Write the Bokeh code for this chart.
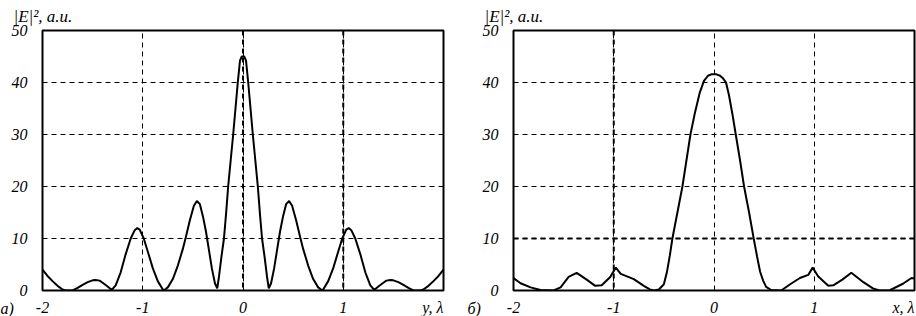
from bokeh.plotting import figure
from bokeh.models import Range1d, FixedTicker, Span, ColumnDataSource
from bokeh.core.properties import value
from bokeh.layouts import row
from bokeh.embed import file_html
from bokeh.resources import INLINE

# ---- data ----
# panel а): |E|^2 versus y (wavelengths)
x_a = [-2.0, -1.95, -1.9, -1.85, -1.8, -1.77, -1.7, -1.65, -1.6, -1.55, -1.5, -1.47, -1.43, -1.4, -1.36, -1.32, -1.305,
       -1.27, -1.22, -1.17, -1.12, -1.08, -1.055, -1.03, -0.99, -0.95, -0.9, -0.85, -0.8, -0.79,
       -0.75, -0.7, -0.65, -0.6, -0.57, -0.53, -0.49, -0.46, -0.43, -0.4, -0.37, -0.34, -0.31, -0.28, -0.257,
       -0.24, -0.215, -0.19, -0.17, -0.148, -0.123, -0.098, -0.075, -0.052, -0.03, -0.012,
       0.012, 0.03, 0.052, 0.075, 0.098, 0.123, 0.148, 0.17, 0.19, 0.215, 0.24,
       0.257, 0.28, 0.31, 0.34, 0.37, 0.4, 0.43, 0.46, 0.49, 0.53, 0.57, 0.6, 0.65, 0.7, 0.75,
       0.79, 0.8, 0.85, 0.9, 0.95, 0.99, 1.03, 1.055, 1.08, 1.12, 1.17, 1.22, 1.27,
       1.305, 1.32, 1.36, 1.4, 1.43, 1.47, 1.5, 1.55, 1.6, 1.65, 1.7, 1.77, 1.8, 1.85, 1.9, 1.95, 2.0]
y_a = [4.0, 2.8, 1.8, 0.9, 0.2, 0.0, 0.0, 0.5, 1.1, 1.6, 1.95, 2.0, 1.9, 1.5, 0.9, 0.3, 0.2,
       1.0, 3.5, 7.0, 10.0, 11.6, 12.0, 11.7, 10.0, 7.5, 4.3, 1.8, 0.2, 0.0,
       0.6, 2.2, 4.8, 8.0, 10.3, 13.5, 16.3, 17.2, 16.6, 14.3, 11.4, 7.8, 4.2, 1.4, 0.4,
       2.6, 6.5, 10.0, 14.5, 20.0, 25.0, 30.0, 35.0, 40.0, 44.2, 45.0,
       45.0, 44.2, 40.0, 35.0, 30.0, 25.0, 20.0, 14.5, 10.0, 6.5, 2.6,
       0.4, 1.4, 4.2, 7.8, 11.4, 14.3, 16.6, 17.2, 16.3, 13.5, 10.3, 8.0, 4.8, 2.2, 0.6,
       0.0, 0.2, 1.8, 4.3, 7.5, 10.0, 11.7, 12.0, 11.6, 10.0, 7.0, 3.5, 1.0,
       0.2, 0.3, 0.9, 1.5, 1.9, 2.0, 1.95, 1.6, 1.1, 0.5, 0.0, 0.0, 0.2, 0.9, 1.8, 2.8, 4.0]

# panel б): |E|^2 versus x (wavelengths)
x_b = [-2.0, -1.93, -1.83, -1.73, -1.6, -1.53, -1.45, -1.37, -1.27, -1.185, -1.12, -1.035, -0.98, -0.93,
       -0.8, -0.7, -0.64, -0.6, -0.55, -0.5, -0.47, -0.44, -0.415, -0.365, -0.315, -0.275, -0.235,
       -0.19, -0.143, -0.1, -0.06, -0.02, 0.02, 0.06, 0.09, 0.12, 0.15, 0.183, 0.217, 0.26, 0.3, 0.35,
       0.396, 0.43, 0.46, 0.49, 0.52, 0.57, 0.67, 0.76, 0.857, 0.94, 0.984, 1.04, 1.14, 1.19,
       1.28, 1.37, 1.49, 1.585, 1.65, 1.75, 1.885, 1.97, 2.0]
y_b = [2.4, 1.4, 0.6, 0.1, 0.0, 0.6, 2.6, 3.4, 2.1, 0.9, 1.0, 2.6, 4.4, 3.2,
       2.2, 0.9, 0.2, 0.0, 0.2, 1.2, 3.5, 6.8, 10.0, 15.0, 20.0, 25.0, 30.0,
       34.2, 38.0, 40.3, 41.3, 41.6, 41.6, 41.3, 40.8, 40.0, 37.5, 34.0, 30.0, 25.0, 20.0, 15.0,
       10.0, 6.5, 3.6, 1.9, 0.7, 0.1, 0.0, 1.2, 2.4, 3.0, 4.4, 2.7, 0.9, 1.0,
       2.1, 3.4, 1.6, 0.4, 0.0, 0.0, 1.3, 2.4, 2.3]

x_ticks = [-2, -1, 0, 1]
x_tick_labels = {-2: "-2", -1: "-1", 0: "0", 1: "1"}
y_ticks = [0, 10, 20, 30, 40, 50]
x_grid = [-1, 0, 1]
y_grid = [10, 20, 30, 40]
y_title = "|E|², a.u."
x_title_a = "y, λ"
x_title_b = "x, λ"
panel_a = "а)"
panel_b = "б)"

FONT = "Liberation Serif"


def make_panel(xs, ys, x_title, letter, width, border_left, border_right,
               thick_x, thick_y, letter_dx):
    p = figure(width=width, height=316, x_range=Range1d(-2, 2), y_range=Range1d(0, 50),
               output_backend="svg", toolbar_location=None,
               min_border_left=border_left, min_border_right=border_right,
               min_border_top=26, min_border_bottom=26)
    p.background_fill_color = "white"
    p.border_fill_color = "white"
    p.outline_line_color = "black"
    p.outline_line_width = 2
    p.outline_line_alpha = 1.0

    p.title.text = y_title
    p.title.align = "left"
    p.title.offset = -29
    p.title.standoff = 9
    p.title.text_font = FONT
    p.title.text_font_style = "italic"
    p.title.text_font_size = "17px"
    p.title.text_color = "black"

    for ax in p.axis:
        ax.axis_line_color = None
        ax.major_tick_line_color = None
        ax.minor_tick_line_color = None
        ax.major_label_text_font = FONT
        ax.major_label_text_font_style = "italic"
        ax.major_label_text_font_size = "16px"
        ax.major_label_text_color = "black"
    p.xaxis.ticker = FixedTicker(ticks=x_ticks)
    p.xaxis.major_label_overrides = x_tick_labels
    p.yaxis.ticker = FixedTicker(ticks=y_ticks)
    p.xaxis.major_label_standoff = 5
    p.yaxis.major_label_standoff = 9

    p.xgrid.ticker = FixedTicker(ticks=x_grid)
    p.ygrid.ticker = FixedTicker(ticks=y_grid)
    for g in (p.xgrid, p.ygrid):
        g.grid_line_color = "black"
        g.grid_line_alpha = 1.0
        g.grid_line_width = 1
        g.grid_line_dash = "5 4"

    for v in thick_x:
        p.add_layout(Span(location=v, dimension="height", line_color="black",
                          line_width=2, line_dash="5 4"))
    for v in thick_y:
        p.add_layout(Span(location=v, dimension="width", line_color="black",
                          line_width=2, line_dash="5 4"))

    p.line(xs, ys, line_color="black", line_width=2)

    # axis name at the right end of the x axis, and the panel letter at the left
    src_t = ColumnDataSource(dict(x=[2], y=[0], t=[x_title]))
    p.text(x="x", y="y", text="t", source=src_t, x_offset=0, y_offset=17,
           text_align="right", text_baseline="alphabetic", text_font=value(FONT),
           text_font_style="italic", text_font_size="16px", text_color="black",
           level="overlay")
    src_l = ColumnDataSource(dict(x=[-2], y=[0], t=[letter]))
    p.text(x="x", y="y", text="t", source=src_l, x_offset=letter_dx, y_offset=18,
           text_align="left", text_baseline="alphabetic", text_font=value(FONT),
           text_font_style="italic", text_font_size="16px", text_color="black",
           level="overlay")
    return p


pa = make_panel(x_a, y_a, x_title_a, panel_a, 460, 42, 17, [0, 1], [], -42)
pb = make_panel(x_b, y_b, x_title_b, panel_b, 456, 53, 2, [-1], [10], -46)

layout = row(pa, pb)
open("out.html", "w").write(file_html(layout, INLINE))
